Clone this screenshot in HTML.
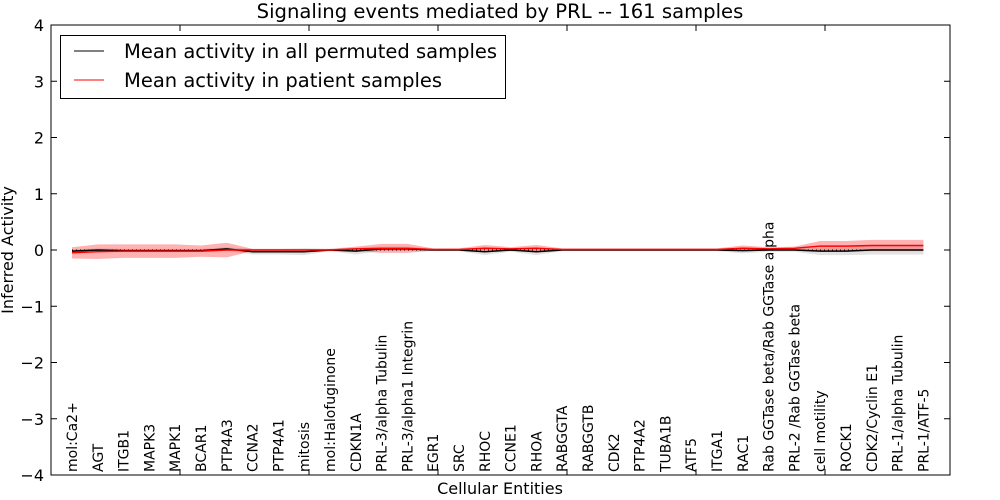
<!DOCTYPE html>
<html><head><meta charset="utf-8"><style>
body{margin:0;background:#fff;}
svg{display:block;font-family:"DejaVu Sans","Liberation Sans",sans-serif;}
</style></head><body>
<svg id="chart" width="1000" height="500">
<text x="500" y="18" text-anchor="middle" font-size="19.6">Signaling events mediated by PRL -- 161 samples</text>
<g id="bands"></g><g id="lines"></g>
<rect x="51" y="25" width="899" height="450" fill="none" stroke="#000" stroke-width="1"/>
<g id="yaxis"></g><g id="xaxis"></g>
<text x="500" y="494" text-anchor="middle" font-size="16">Cellular Entities</text>
<text transform="translate(13,250) rotate(-90)" text-anchor="middle" font-size="16">Inferred Activity</text>
<g>
<rect x="60.5" y="35.5" width="445" height="63" fill="#fff" stroke="#000"/>
<line x1="74" y1="51" x2="104" y2="51" stroke="#000"/>
<text x="124" y="58" font-size="19.5">Mean activity in all permuted samples</text>
<line x1="74" y1="80" x2="104" y2="80" stroke="#f00"/>
<text x="124" y="87" font-size="19.5">Mean activity in patient samples</text>
</g>
</svg>
<script>
const categories=["mol:Ca2+","AGT","ITGB1","MAPK3","MAPK1","BCAR1","PTP4A3","CCNA2","PTP4A1","mitosis","mol:Halofuginone","CDKN1A","PRL-3/alpha Tubulin","PRL-3/alpha1 Integrin","EGR1","SRC","RHOC","CCNE1","RHOA","RABGGTA","RABGGTB","CDK2","PTP4A2","TUBA1B","ATF5","ITGA1","RAC1","Rab GGTase beta/Rab GGTase alpha","PRL-2 /Rab GGTase beta","cell motility","ROCK1","CDK2/Cyclin E1","PRL-1/alpha Tubulin","PRL-1/ATF-5"];
const patientMean=[-0.05,-0.03,-0.02,-0.02,-0.02,-0.02,0.0,0.0,0.0,0.0,0.0,0.02,0.03,0.03,0.01,0.01,0.03,0.02,0.03,0.01,0.01,0.01,0.01,0.01,0.01,0.01,0.03,0.02,0.03,0.07,0.07,0.08,0.08,0.08];
const patientSpread=[0.1,0.13,0.12,0.12,0.12,0.1,0.13,0.02,0.02,0.02,0.02,0.04,0.08,0.08,0.02,0.02,0.06,0.03,0.06,0.02,0.02,0.02,0.02,0.02,0.02,0.02,0.05,0.03,0.03,0.09,0.09,0.1,0.1,0.1];
const permutedMean=[-0.02,0.0,-0.01,-0.01,-0.01,-0.01,0.02,-0.03,-0.03,-0.03,0.0,-0.02,0.02,0.02,0.0,0.0,-0.03,0.0,-0.03,0.0,0.0,0.0,0.0,0.0,0.0,0.0,-0.01,0.0,0.0,-0.02,-0.02,0.0,0.0,0.0];
const permutedSpread=[0.03,0.03,0.03,0.03,0.03,0.03,0.03,0.05,0.05,0.06,0.02,0.06,0.04,0.04,0.02,0.02,0.06,0.03,0.06,0.02,0.02,0.02,0.02,0.02,0.02,0.02,0.05,0.03,0.03,0.07,0.07,0.08,0.08,0.08];
const yTicks=[-4,-3,-2,-1,0,1,2,3,4];
const NS="http://www.w3.org/2000/svg";
const X=i=>72+i*25.8, Y=v=>250-v*56.25;
function mk(t,a,p){const e=document.createElementNS(NS,t);for(const k in a)e.setAttribute(k,a[k]);p.appendChild(e);return e;}
const bands=document.getElementById('bands'),lines=document.getElementById('lines');
function band(m,s,fill,op,name){
 let up=m.map((v,i)=>X(i)+','+Y(v+s[i])),dn=m.map((v,i)=>X(i)+','+Y(v-s[i])).reverse();
 const p=mk('polygon',{points:up.concat(dn).join(' '),fill:fill,'fill-opacity':op,stroke:'none'},bands);
 
 
}
band(permutedMean,permutedSpread,'#aaa',0.35,'permuted-band');
band(patientMean,patientSpread,'#f00',0.3,'patient-band');
const zl=mk('line',{x1:X(0),x2:X(33),y1:Y(0),y2:Y(0),stroke:'#000','stroke-dasharray':'1,3','stroke-width':1},lines);


const l1=mk('polyline',{points:permutedMean.map((v,i)=>X(i)+','+Y(v)).join(' '),fill:'none',stroke:'#000','stroke-width':1.5},lines);


const l2=mk('polyline',{points:patientMean.map((v,i)=>X(i)+','+Y(v)).join(' '),fill:'none',stroke:'#f00','stroke-width':1.5},lines);


const ya=document.getElementById('yaxis');
yTicks.forEach(v=>{
 mk('line',{x1:51,x2:57,y1:Y(v),y2:Y(v),stroke:'#000'},ya);
 mk('line',{x1:944,x2:950,y1:Y(v),y2:Y(v),stroke:'#000'},ya);
 const t=mk('text',{x:44,y:Y(v)+6,'text-anchor':'end','font-size':16},ya);
 t.textContent=(v<0?'\u2212'+(-v):v);
 
 
});
const xa=document.getElementById('xaxis');
for(let k=1;k<7;k++){mk('line',{x1:51+k*129,x2:51+k*129,y1:25,y2:31,stroke:'#000'},xa);mk('line',{x1:51+k*129,x2:51+k*129,y1:469,y2:475,stroke:'#000'},xa);}
categories.forEach((c,i)=>{
 const t=mk('text',{transform:`translate(${X(i)+5},472) rotate(-90)`,'font-size':14},xa);
 t.textContent=c;
 
 
});
</script>
</body></html>
